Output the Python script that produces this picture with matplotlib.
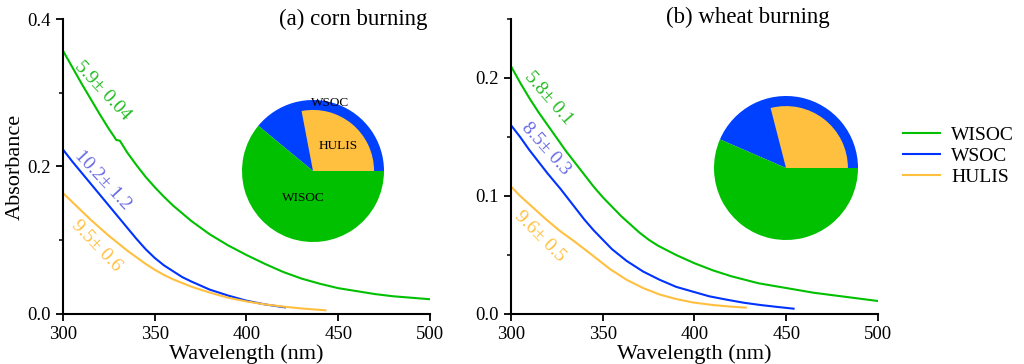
import matplotlib
matplotlib.use("Agg")
import matplotlib.pyplot as plt
from matplotlib.ticker import MultipleLocator

plt.rcParams['font.family'] = ['Liberation Serif', 'DejaVu Serif']

# ---- data ----
# (a) corn burning
corn_wisoc_wl = [300, 305, 310, 315, 320, 325, 328, 329, 330, 331, 333, 335, 340, 345, 350,
                 355, 360, 370, 380, 390, 400, 410, 420, 430, 440, 450, 460, 470, 480, 490, 500]
corn_wisoc_abs = [0.357, 0.335, 0.313, 0.292, 0.271, 0.251, 0.240, 0.236, 0.2355, 0.235,
                  0.227, 0.219, 0.202, 0.186, 0.172, 0.159, 0.147, 0.126, 0.108, 0.093,
                  0.080, 0.068, 0.057, 0.048, 0.041, 0.035, 0.031, 0.027, 0.024, 0.022, 0.020]
corn_wsoc_wl = [300, 305, 310, 315, 320, 325, 330, 335, 340, 345, 350, 355,
                360, 365, 370, 380, 390, 400, 410, 421]
corn_wsoc_abs = [0.223, 0.207, 0.192, 0.177, 0.162, 0.147, 0.132, 0.117, 0.102, 0.088,
                 0.076, 0.066, 0.058, 0.050, 0.044, 0.033, 0.025, 0.018, 0.013, 0.009]
corn_hulis_wl = [300, 305, 310, 315, 320, 325, 330, 335, 340, 345, 350, 355,
                 360, 370, 380, 390, 400, 410, 420, 430, 443]
corn_hulis_abs = [0.164, 0.152, 0.140, 0.128, 0.117, 0.106, 0.096, 0.086, 0.077, 0.068,
                  0.060, 0.053, 0.047, 0.037, 0.029, 0.022, 0.017, 0.013, 0.010, 0.0075, 0.005]

# (b) wheat burning
wheat_wisoc_wl = [300, 305, 310, 315, 320, 325, 330, 335, 340, 345, 350, 355, 360, 365,
                  370, 375, 380, 390, 400, 410, 420, 435, 450, 465, 480, 490, 500]
wheat_wisoc_abs = [0.210, 0.196, 0.183, 0.171, 0.160, 0.149, 0.138, 0.128, 0.118, 0.108,
                   0.099, 0.091, 0.083, 0.076, 0.069, 0.063, 0.058, 0.050, 0.043, 0.037,
                   0.032, 0.026, 0.022, 0.018, 0.015, 0.013, 0.011]
wheat_wsoc_wl = [300, 305, 310, 315, 320, 327, 335, 340, 345, 350, 355, 363, 372, 381,
                 390, 399, 408, 418, 427, 436, 445, 454]
wheat_wsoc_abs = [0.160, 0.150, 0.139, 0.129, 0.119, 0.106, 0.090, 0.080, 0.071, 0.063,
                  0.055, 0.045, 0.036, 0.029, 0.023, 0.019, 0.015, 0.012, 0.0095, 0.0076,
                  0.006, 0.0045]
wheat_hulis_wl = [300, 305, 310, 315, 320, 327, 335, 345, 354, 363, 372, 381, 390,
                  399, 410, 420, 428]
wheat_hulis_abs = [0.108, 0.100, 0.093, 0.086, 0.079, 0.070, 0.061, 0.049, 0.038, 0.029,
                   0.022, 0.0165, 0.0127, 0.0098, 0.0076, 0.0062, 0.0054]

# AAE labels
corn_aae = ["5.9\u00b1 0.04", "10.2\u00b1 1.2", "9.5\u00b1 0.6"]
wheat_aae = ["5.8\u00b1 0.1", "8.5\u00b1 0.3", "9.6\u00b1 0.5"]

# pie fractions (% of total)
corn_pie = {"WISOC": 61.0, "WSOC": 39.0, "HULIS": 28.0}
wheat_pie = {"WISOC": 56.5, "WSOC": 43.5, "HULIS": 29.0}

series_names = ["WISOC", "WSOC", "HULIS"]
line_colors = ["#00c000", "#0033ff", "#ffc040"]
label_colors = ["#22bb22", "#6a6ae6", "#ffc040"]
pie_colors = {"WISOC": "#00c000", "WSOC": "#0040ff", "HULIS": "#ffc040"}

fig = plt.figure(figsize=(10.24, 3.64), dpi=100)

ax1 = fig.add_axes([0.0615, 0.1374, 0.3584, 0.8104])
ax2 = fig.add_axes([0.499, 0.1374, 0.3584, 0.8104])


def style_axis(ax, ymax, major, minor):
    ax.set_xlim(300, 500)
    ax.set_ylim(0, ymax)
    ax.xaxis.set_major_locator(MultipleLocator(50))
    ax.yaxis.set_major_locator(MultipleLocator(major))
    ax.yaxis.set_minor_locator(MultipleLocator(minor))
    ax.spines['top'].set_visible(False)
    ax.spines['right'].set_visible(False)
    for s in ('left', 'bottom'):
        ax.spines[s].set_linewidth(1.5)
    ax.tick_params(which='major', direction='out', length=5, width=1.3, labelsize=13.5)
    ax.tick_params(which='minor', direction='out', length=3, width=1.1)
    ax.set_xlabel('Wavelength (nm)', fontsize=16, labelpad=1)
    ax.yaxis.set_major_formatter(plt.FuncFormatter(lambda v, p: f"{v:.1f}"))


# ---- panel (a) ----
ax1.plot(corn_wisoc_wl, corn_wisoc_abs, color=line_colors[0], lw=1.5, label=series_names[0])
ax1.plot(corn_wsoc_wl, corn_wsoc_abs, color=line_colors[1], lw=1.5, label=series_names[1])
ax1.plot(corn_hulis_wl, corn_hulis_abs, color=line_colors[2], lw=1.5, label=series_names[2])
style_axis(ax1, 0.4, 0.2, 0.1)
ax1.set_ylabel('Absorbance', fontsize=16, labelpad=2)
ax1.text(458, 0.400, '(a) corn burning', fontsize=16.5, ha='center', va='center',
         clip_on=False)
for txt, col, (x, y), rot in zip(corn_aae, label_colors,
                                 [(321.6, 0.303), (321.6, 0.182), (318.4, 0.092)],
                                 [-47, -47, -46]):
    ax1.text(x, y, txt, color=col, fontsize=14, rotation=rot, ha='center', va='center',
             rotation_mode='anchor')

# ---- panel (b) ----
ax2.plot(wheat_wisoc_wl, wheat_wisoc_abs, color=line_colors[0], lw=1.5)
ax2.plot(wheat_wsoc_wl, wheat_wsoc_abs, color=line_colors[1], lw=1.5)
ax2.plot(wheat_hulis_wl, wheat_hulis_abs, color=line_colors[2], lw=1.5)
style_axis(ax2, 0.25, 0.1, 0.05)
ax2.text(429, 0.251, '(b) wheat burning', fontsize=16.5, ha='center', va='center',
         clip_on=False)
for txt, col, (x, y), rot in zip(wheat_aae, label_colors,
                                 [(320.3, 0.183), (318.9, 0.140), (315.8, 0.066)],
                                 [-49, -48, -45]):
    ax2.text(x, y, txt, color=col, fontsize=14, rotation=rot, ha='center', va='center',
             rotation_mode='anchor')


# ---- pies ----
def draw_pie(rect, fracs, labels=False):
    pax = fig.add_axes(rect)
    wsoc = fracs["WSOC"]
    wisoc = fracs["WISOC"]
    hulis = fracs["HULIS"]
    pax.pie([wsoc, wisoc], colors=[pie_colors["WSOC"], pie_colors["WISOC"]],
            startangle=0, counterclock=True, radius=1.0)
    wedges, _ = pax.pie([hulis, 100 - hulis], colors=[pie_colors["HULIS"], 'none'],
                        startangle=0, counterclock=True, radius=0.86)
    wedges[1].set_visible(False)
    pax.set_xlim(-1, 1)
    pax.set_ylim(-1, 1)
    pax.set_aspect('equal')
    pax.axis('off')
    if labels:
        pax.text(0.24, 0.96, 'WSOC', fontsize=9.5, ha='center', va='center')
        pax.text(0.35, 0.35, 'HULIS', fontsize=9.5, ha='center', va='center')
        pax.text(-0.14, -0.38, 'WISOC', fontsize=9.5, ha='center', va='center')
    return pax


draw_pie([(313 - 71) / 1024, 1 - (171 + 71) / 364, 142 / 1024, 142 / 364], corn_pie, labels=True)
draw_pie([(786 - 72) / 1024, 1 - (168 + 72) / 364, 144 / 1024, 144 / 364], wheat_pie)

# ---- legend ----
handles = ax1.get_lines()
fig.legend(handles, series_names, loc='center left', bbox_to_anchor=(903 / 1024, 1 - 156 / 364),
           frameon=False, fontsize=14, handlelength=1.9, handletextpad=0.57,
           labelspacing=0.18, borderpad=0, borderaxespad=0)

fig.savefig('out.png', dpi=100, facecolor='white')
